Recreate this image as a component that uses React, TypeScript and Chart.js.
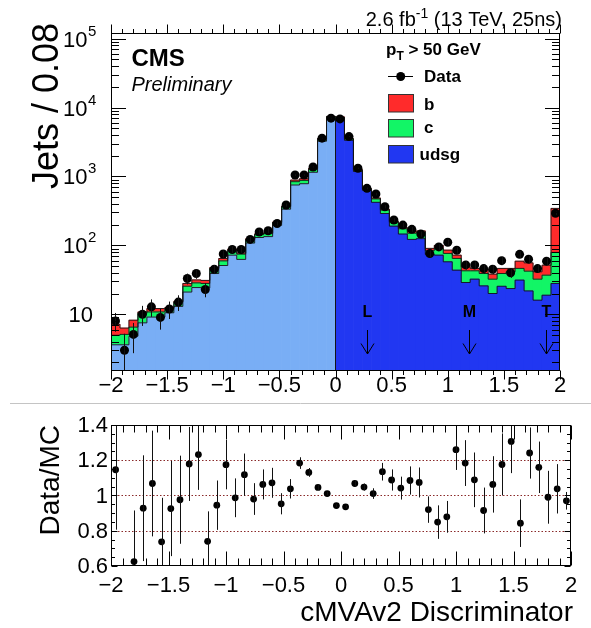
import React, { useEffect, useRef } from 'react';
import { Chart, registerables } from 'chart.js';

Chart.register(...registerables);

const FONT = '"Liberation Sans", Arial, Helvetica, sans-serif';

// Discriminator binning: 50 bins of width 0.08 on [-2, 2]
const binLow = -2;
const binWidth = 0.08;

const dataCounts = [
  8.0, 3.0, 5.1, 10, 12.8, 9.0, 11.9, 15.0, 33, 39,
  22.9, 45, 75, 87, 87, 122, 156, 163, 208, 385,
  1050, 1050, 1375, 3600, 7030, 6850, 3790, 1315, 673, 556,
  364, 233, 197, 171, 146, 76, 95, 111, 85, 52,
  52, 46, 45, 60, 40, 74, 63, 46, 59, 292,
];
const udsgCounts = [
  3.6, 3.6, 4.8, 7.5, 9.1, 9.1, 10.5, 13.0, 21, 24.4,
  24, 39, 51, 72, 62.5, 108, 130, 134, 195, 335,
  752, 785, 1150, 3250, 7000, 6900, 3350, 1180, 630, 422,
  290, 190, 146, 122, 125, 74, 72, 57.7, 43.6, 28.9,
  32.3, 25.8, 20, 25.5, 23.6, 31.3, 21.8, 16, 18.9, 28,
];
const cCounts = [
  1.35, 1.5, 1.7, 2.8, 1.7, 1.7, 1.6, 2.0, 4.5, 4.1,
  4, 7, 8.5, 12, 12, 13, 13, 14, 18, 28,
  88, 92, 120, 230, 320, 300, 150, 55, 28, 50,
  35, 27, 28, 28, 30, 9.5, 18, 18.7, 21, 13.8,
  10.4, 13.2, 12.3, 13.5, 17.7, 15, 20.4, 16.3, 18, 51,
];
const bCounts = [
  2.2, 1.2, 1.7, 0.5, 1.3, 1.3, 0.4, 0.4, 2.5, 3.0,
  3, 1.6, 5, 4, 3, 3.5, 4, 4, 5, 8,
  47, 51, 44, 80, 135, 118, 50, 20, 8, 15,
  10, 7, 8, 9, 7, 7, 10, 8.9, 7.5, 6,
  3.6, 6.2, 5.9, 7.3, 5, 12.7, 13.5, 9, 14.7, 265,
];
const ratioValues = [
  1.146, 0.48, 0.625, 0.928, 1.068, 0.737, 0.926, 0.976, 1.179, 1.232,
  0.74, 0.945, 1.175, 0.987, 1.118, 0.98, 1.063, 1.072, 0.953, 1.038,
  1.184, 1.131, 1.046, 1.011, 0.943, 0.936, 1.068, 1.048, 1.011, 1.135,
  1.088, 1.042, 1.085, 1.074, 0.92, 0.849, 0.879, 1.26, 1.184, 1.089,
  0.915, 1.063, 1.176, 1.307, 0.843, 1.241, 1.16, 0.99, 1.038, 0.97,
];
const ratioErrors = [
  0.34, 0.35, 0.29, 0.3, 0.3, 0.25, 0.27, 0.25, 0.21, 0.2,
  0.17, 0.14, 0.14, 0.11, 0.12, 0.09, 0.085, 0.085, 0.06, 0.055,
  0.033, 0.025, 0.015, 0.01, 0.008, 0.008, 0.015, 0.02, 0.03, 0.05,
  0.06, 0.065, 0.08, 0.085, 0.075, 0.095, 0.09, 0.115, 0.13, 0.155,
  0.13, 0.16, 0.176, 0.18, 0.135, 0.145, 0.146, 0.15, 0.14, 0.05,
];

const xTickValues = [-2, -1.5, -1, -0.5, 0, 0.5, 1, 1.5, 2];
const xTickLabels = ['\u22122', '\u22121.5', '\u22121', '\u22120.5', '0', '0.5', '1', '1.5', '2'];
const logDecades = [1, 2, 3, 4, 5];
const ratioTickValues = [0.6, 0.8, 1, 1.2, 1.4];
const ratioTickLabels = ['0.6', '0.8', '1', '1.2', '1.4'];
const ratioGuideValues = [0.8, 1, 1.2];
const workingPoints = [0.285, 1.185, 1.875];
const workingPointLabels = ['L', 'M', 'T'];

const Y_MIN = 1.5;
const Y_MAX = 1.21e5;

const RED = '#ff2b2b';
const GREEN = '#12f566';
const BLUE = '#2137f2';
const LIGHT_BLUE = '#79aef5';
const OUTLINE = 'rgba(20,20,20,0.9)';

const nBins = dataCounts.length;
const binCenters = dataCounts.map((_, i) => binLow + binWidth * (i + 0.5));
const binEdges = Array.from({ length: nBins + 1 }, (_, i) => binLow + binWidth * i);
const splitIndex = binCenters.findIndex((v) => v > 0);
const levelC = udsgCounts.map((u, i) => u + cCounts[i]);
const mcTotal = levelC.map((v, i) => v + bCounts[i]);
const dataErrors = ratioErrors.map((e, i) => e * mcTotal[i]);

type Pt = { x: number; y: number };

function stepOutline(values: number[], lo: number, hi: number): Pt[] {
  const pts: Pt[] = [];
  for (let i = lo; i < hi; i++) pts.push({ x: binEdges[i], y: values[i] });
  pts.push({ x: binEdges[hi], y: values[hi - 1] });
  return pts;
}

const udsgOutline: Pt[] = [
  ...stepOutline(udsgCounts, 0, splitIndex),
  { x: binEdges[splitIndex], y: Y_MIN },
  { x: binEdges[splitIndex], y: Y_MIN },
  ...stepOutline(udsgCounts, splitIndex, nBins),
];

const errorBarPlugin = {
  id: 'errorBars',
  afterDatasetsDraw(chart: any) {
    const { ctx, chartArea: a } = chart;
    const ys = chart.scales.y;
    chart.data.datasets.forEach((ds: any, di: number) => {
      const errs: number[] | undefined = ds.errorBars;
      if (!errs) return;
      const meta = chart.getDatasetMeta(di);
      ctx.save();
      ctx.beginPath();
      ctx.rect(a.left, a.top, a.right - a.left, a.bottom - a.top);
      ctx.clip();
      ctx.strokeStyle = '#111';
      ctx.lineWidth = 1;
      ctx.beginPath();
      meta.data.forEach((el: any, i: number) => {
        const v = ds.data[i].y;
        if (v < ys.min || v > ys.max) return;
        let lo = v - errs[i];
        if (lo <= 0) lo = ys.min;
        const hi = v + errs[i];
        const px = Math.round(el.x) + 0.5;
        ctx.moveTo(px, ys.getPixelForValue(lo));
        ctx.lineTo(px, ys.getPixelForValue(hi));
      });
      ctx.stroke();
      ctx.restore();
    });
  },
};

function crispX(v: number) {
  return Math.round(v) + 0.5;
}

const topDecor = {
  id: 'topDecor',
  afterDraw(chart: any) {
    const { ctx, chartArea: a } = chart;
    const xs = chart.scales.x;
    const ys = chart.scales.y;
    const L = Math.round(a.left) + 0.5;
    const R = Math.round(a.right) - 0.5;
    const T = Math.round(a.top) + 0.5;
    const B = Math.round(a.bottom) - 0.5;
    ctx.save();
    ctx.strokeStyle = '#000';
    ctx.lineWidth = 1;
    ctx.strokeRect(L, T, R - L, B - T);

    // x ticks (outward, top and bottom)
    const xMin = xTickValues[0];
    const xMax = xTickValues[xTickValues.length - 1];
    const nMinor = Math.round((xMax - xMin) / 0.1);
    ctx.beginPath();
    for (let i = 0; i <= nMinor; i++) {
      const px = crispX(xs.getPixelForValue(xMin + i * 0.1));
      const len = i % 5 === 0 ? 9 : 4.5;
      ctx.moveTo(px, T);
      ctx.lineTo(px, T - len);
      ctx.moveTo(px, B);
      ctx.lineTo(px, B + len);
    }
    // y log ticks (inward, left and right)
    for (let k = 0; k <= 5; k++) {
      for (let m = 1; m <= 9; m++) {
        const v = m * Math.pow(10, k);
        if (v < ys.min || v > ys.max) continue;
        const py = Math.round(ys.getPixelForValue(v)) + 0.5;
        const len = m === 1 ? 14.5 : 7.5;
        ctx.moveTo(L, py);
        ctx.lineTo(L + len, py);
        ctx.moveTo(R, py);
        ctx.lineTo(R - len, py);
      }
    }
    ctx.stroke();

    ctx.fillStyle = '#000';
    // x tick labels
    ctx.font = `22px ${FONT}`;
    ctx.textAlign = 'center';
    ctx.textBaseline = 'alphabetic';
    xTickValues.forEach((v, i) => {
      ctx.fillText(xTickLabels[i], xs.getPixelForValue(v), 392);
    });
    // y tick labels: 10^k
    logDecades.forEach((k) => {
      const py = ys.getPixelForValue(Math.pow(10, k));
      ctx.font = `22px ${FONT}`;
      if (k === 1) {
        ctx.textAlign = 'right';
        ctx.fillText('10', a.left - 18, py + 8);
      } else {
        ctx.textAlign = 'right';
        ctx.fillText('10', a.left - 23.5, py + 8);
        ctx.font = `15px ${FONT}`;
        ctx.textAlign = 'left';
        ctx.fillText(String(k), a.left - 23, py - 3);
      }
    });

    // y title
    ctx.save();
    ctx.translate(58, 23);
    ctx.rotate(-Math.PI / 2);
    ctx.font = `36px ${FONT}`;
    ctx.textAlign = 'right';
    ctx.fillText('Jets / 0.08', 0, 0);
    ctx.restore();

    // luminosity label
    ctx.textAlign = 'left';
    const big = `20px ${FONT}`;
    const small = `14px ${FONT}`;
    const p1 = '2.6 fb';
    const p2 = '-1';
    const p3 = ' (13 TeV, 25ns)';
    ctx.font = big;
    const w1 = ctx.measureText(p1).width;
    const w3 = ctx.measureText(p3).width;
    ctx.font = small;
    const w2 = ctx.measureText(p2).width;
    let lx = 562 - (w1 + w2 + w3);
    ctx.font = big;
    ctx.fillText(p1, lx, 26);
    lx += w1;
    ctx.font = small;
    ctx.fillText(p2, lx, 18);
    lx += w2;
    ctx.font = big;
    ctx.fillText(p3, lx, 26);

    // CMS Preliminary
    ctx.font = `bold 24px ${FONT}`;
    ctx.fillText('CMS', 131.5, 66);
    ctx.font = `italic 20px ${FONT}`;
    ctx.fillText('Preliminary', 131.5, 90.5);

    // legend
    ctx.font = `bold 17px ${FONT}`;
    let px = 386;
    ctx.fillText('p', px, 55);
    px += ctx.measureText('p').width;
    ctx.font = `bold 12px ${FONT}`;
    ctx.fillText('T', px, 60);
    px += ctx.measureText('T').width;
    ctx.font = `bold 17px ${FONT}`;
    ctx.fillText(' > 50 GeV', px, 55);

    ctx.beginPath();
    ctx.moveTo(388, 76.5);
    ctx.lineTo(413, 76.5);
    ctx.stroke();
    ctx.beginPath();
    ctx.arc(400.7, 76.5, 4.5, 0, Math.PI * 2);
    ctx.fill();
    ctx.fillText('Data', 424, 82);

    const boxes: [string, string, number, number][] = [
      [RED, 'b', 94.5, 110],
      [GREEN, 'c', 119.5, 133],
      [BLUE, 'udsg', 145.5, 159.5],
    ];
    boxes.forEach(([col, label, by, ty]) => {
      ctx.fillStyle = col;
      ctx.fillRect(388.5, by, 25, 17.5);
      ctx.strokeStyle = '#333';
      ctx.strokeRect(388.5, by, 25, 17.5);
      ctx.fillStyle = '#000';
      ctx.fillText(label, label === 'udsg' ? 419.5 : 424, ty);
    });

    // working point arrows
    ctx.strokeStyle = '#000';
    ctx.font = `bold 16px ${FONT}`;
    ctx.textAlign = 'center';
    workingPoints.forEach((wp, i) => {
      const x = crispX(xs.getPixelForValue(wp));
      ctx.fillText(workingPointLabels[i], x, a.bottom - 54);
      ctx.beginPath();
      ctx.moveTo(x, a.bottom - 41);
      ctx.lineTo(x, a.bottom - 17);
      ctx.moveTo(x - 6.5, a.bottom - 27.5);
      ctx.lineTo(x, a.bottom - 17);
      ctx.lineTo(x + 6.5, a.bottom - 27.5);
      ctx.stroke();
    });
    ctx.restore();
  },
};

const ratioDecor = {
  id: 'ratioDecor',
  beforeDatasetsDraw(chart: any) {
    const { ctx, chartArea: a } = chart;
    const ys = chart.scales.y;
    ctx.save();
    ctx.strokeStyle = '#8a2a2a';
    ctx.lineWidth = 1;
    ctx.setLineDash([1.5, 2]);
    ctx.beginPath();
    ratioGuideValues.forEach((v) => {
      const py = Math.round(ys.getPixelForValue(v)) + 0.5;
      ctx.moveTo(a.left, py);
      ctx.lineTo(a.right, py);
    });
    ctx.stroke();
    ctx.restore();
  },
  afterDraw(chart: any) {
    const { ctx, chartArea: a } = chart;
    const xs = chart.scales.x;
    const ys = chart.scales.y;
    const L = Math.round(a.left) + 0.5;
    const R = Math.round(a.right) - 0.5;
    const T = Math.round(a.top) + 0.5;
    const B = Math.round(a.bottom) - 0.5;
    ctx.save();
    // pad separator
    ctx.strokeStyle = '#c4c4c4';
    ctx.lineWidth = 1;
    ctx.beginPath();
    ctx.moveTo(10, 0.5);
    ctx.lineTo(591, 0.5);
    ctx.stroke();

    ctx.strokeStyle = '#000';
    ctx.strokeRect(L, T, R - L, B - T);
    const xMin = xTickValues[0];
    const xMax = xTickValues[xTickValues.length - 1];
    const nMinor = Math.round((xMax - xMin) / 0.1);
    ctx.beginPath();
    for (let i = 0; i <= nMinor; i++) {
      const px = crispX(xs.getPixelForValue(xMin + i * 0.1));
      const len = i % 5 === 0 ? 14 : 7;
      ctx.moveTo(px, T);
      ctx.lineTo(px, T + len);
      ctx.moveTo(px, B);
      ctx.lineTo(px, B - len);
    }
    const yLo = ratioTickValues[0];
    const yHi = ratioTickValues[ratioTickValues.length - 1];
    const nY = Math.round((yHi - yLo) / 0.05);
    for (let i = 0; i <= nY; i++) {
      const py = Math.round(ys.getPixelForValue(yLo + i * 0.05)) + 0.5;
      const len = i % 4 === 0 ? 6 : 3.5;
      ctx.moveTo(L, py);
      ctx.lineTo(L + len, py);
      ctx.moveTo(R, py);
      ctx.lineTo(R - len, py);
    }
    ctx.stroke();

    ctx.fillStyle = '#000';
    ctx.font = `22px ${FONT}`;
    ctx.textAlign = 'center';
    ctx.textBaseline = 'alphabetic';
    xTickValues.forEach((v, i) => {
      ctx.fillText(xTickLabels[i], xs.getPixelForValue(v), 189);
    });
    ctx.textAlign = 'right';
    ctx.textBaseline = 'middle';
    ratioTickValues.forEach((v, i) => {
      ctx.fillText(ratioTickLabels[i], a.left - 3, ys.getPixelForValue(v) + 1);
    });

    ctx.textBaseline = 'alphabetic';
    ctx.font = `28px ${FONT}`;
    ctx.textAlign = 'right';
    ctx.fillText('cMVAv2 Discriminator', 573, 218);

    ctx.save();
    ctx.translate(59, a.top);
    ctx.rotate(-Math.PI / 2);
    ctx.textAlign = 'right';
    ctx.fillText('Data/MC', 0, 0);
    ctx.restore();
    ctx.restore();
  },
};

function barDataset(label: string, values: number[], color: string | string[]) {
  return {
    type: 'bar' as const,
    label,
    data: binCenters.map((x, i) => ({ x, y: values[i] })),
    backgroundColor: color,
    borderWidth: 0,
    barPercentage: 1,
    categoryPercentage: 1,
    stack: 'mc',
    order: 3,
  };
}

function outlineDataset(points: Pt[], key: string) {
  return {
    type: 'line' as const,
    label: key,
    data: points,
    stepped: 'before' as const,
    borderColor: OUTLINE,
    borderWidth: 1,
    pointRadius: 0,
    fill: false,
    stack: key,
    order: 2,
  };
}

export default function App() {
  const topRef = useRef<HTMLCanvasElement>(null);
  const ratioRef = useRef<HTMLCanvasElement>(null);

  useEffect(() => {
    const top = new Chart(topRef.current as HTMLCanvasElement, {
      type: 'bar',
      data: {
        datasets: [
          barDataset('udsg', udsgCounts, binCenters.map((x) => (x < 0 ? LIGHT_BLUE : BLUE))),
          barDataset('c', cCounts, GREEN),
          barDataset('b', bCounts, RED),
          outlineDataset(udsgOutline, 'udsgLine'),
          outlineDataset(stepOutline(levelC, 0, nBins), 'cLine'),
          outlineDataset(stepOutline(mcTotal, 0, nBins), 'bLine'),
          {
            type: 'line',
            label: 'Data',
            data: binCenters.map((x, i) => ({ x, y: dataCounts[i] })),
            showLine: false,
            pointRadius: 4.5,
            pointBackgroundColor: '#000',
            pointBorderWidth: 0,
            stack: 'data',
            order: 1,
            errorBars: dataErrors,
          } as any,
        ],
      },
      options: {
        animation: false,
        responsive: false,
        devicePixelRatio: 1,
        layout: { padding: { left: 111, right: 31, top: 33, bottom: 32 } },
        plugins: { legend: { display: false }, tooltip: { enabled: false } },
        scales: {
          x: { type: 'linear', min: -2, max: 2, offset: false, stacked: true, display: false },
          y: { type: 'logarithmic', min: Y_MIN, max: Y_MAX, stacked: true, display: false },
        },
      },
      plugins: [errorBarPlugin, topDecor],
    } as any);

    const ratio = new Chart(ratioRef.current as HTMLCanvasElement, {
      type: 'line',
      data: {
        datasets: [
          {
            label: 'Data/MC',
            data: binCenters.map((x, i) => ({ x, y: ratioValues[i] })),
            showLine: false,
            pointRadius: 3.4,
            pointBackgroundColor: '#000',
            pointBorderWidth: 0,
            errorBars: ratioErrors,
          } as any,
        ],
      },
      options: {
        animation: false,
        responsive: false,
        devicePixelRatio: 1,
        layout: { padding: { left: 111, right: 20, top: 22, bottom: 62 } },
        plugins: { legend: { display: false }, tooltip: { enabled: false } },
        scales: {
          x: { type: 'linear', min: -2, max: 2, display: false },
          y: { type: 'linear', min: 0.6, max: 1.4, display: false },
        },
      },
      plugins: [ratioDecor, errorBarPlugin],
    } as any);

    return () => {
      top.destroy();
      ratio.destroy();
    };
  }, []);

  return (
    <div style={{ position: 'absolute', left: 0, top: 0, width: 591, height: 628, background: '#fff' }}>
      <canvas
        ref={topRef}
        width={591}
        height={403}
        style={{ position: 'absolute', left: 0, top: 0, width: 591, height: 403 }}
      />
      <canvas
        ref={ratioRef}
        width={591}
        height={225}
        style={{ position: 'absolute', left: 0, top: 403, width: 591, height: 225 }}
      />
    </div>
  );
}
